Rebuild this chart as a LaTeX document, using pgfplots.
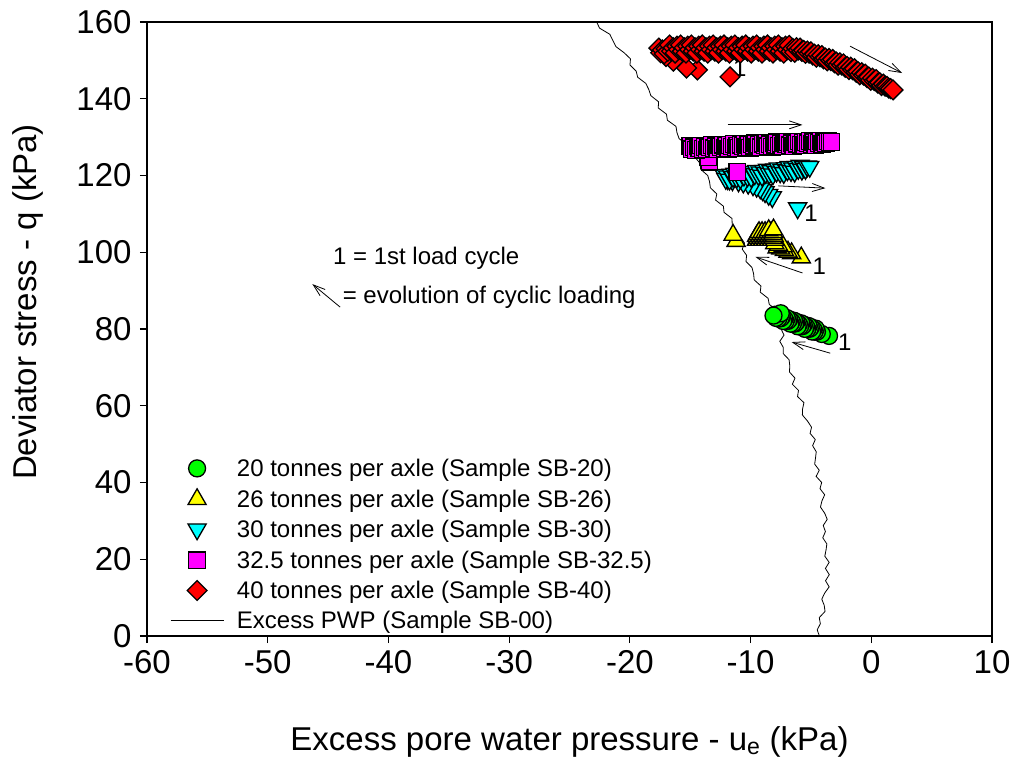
\documentclass[border=0pt]{standalone}
\usepackage{fontspec}
\setmainfont{Liberation Sans}
\usepackage{pgfplots}
\pgfplotsset{compat=1.18}
\usetikzlibrary{arrows.meta}
\definecolor{mgreen}{RGB}{0,255,0}
\definecolor{myellow}{RGB}{255,255,0}
\definecolor{mcyan}{RGB}{0,255,255}
\definecolor{mmagenta}{RGB}{255,0,255}
\definecolor{mred}{RGB}{255,0,0}
\begin{document}
\begin{tikzpicture}
\begin{axis}[
  scale only axis, width=845pt, height=614pt,
  xmin=-60, xmax=10, ymin=0, ymax=160,
  xtick={-60,-50,...,10}, ytick={0,20,...,160},
  tick align=outside, xtick pos=left, ytick pos=left,
  major tick length=7pt,
  axis line style={line width=1.2pt},
  tick style={line width=1.2pt, black},
  /pgf/number format/assume math mode=true,
  ticklabel style={font=\fontsize{33}{38}\selectfont},
  xticklabel style={yshift=-4pt},
  yticklabel style={xshift=-5pt},
  xlabel={Excess pore water pressure - u\textsubscript{e} (kPa)},
  ylabel={Deviator stress - q (kPa)},
  xlabel style={font=\fontsize{33}{38}\selectfont, at={(axis description cs:0.5,-0.173)}, anchor=center},
  ylabel style={font=\fontsize{33}{38}\selectfont, at={(axis description cs:-0.141,0.544)}, anchor=center},
  legend cell align=left,
  legend style={draw=none, fill=none, at={(axis description cs:0.0272,0.2887)}, anchor=north west,
    inner xsep=0pt, inner ysep=0pt, font=\fontsize{24}{29}\selectfont, row sep=11pt, column sep=13pt,
    nodes={inner sep=0pt}},
  legend image code/.code={\draw[mark repeat=2,mark phase=2,#1] plot coordinates {(0pt,0pt) (26.5pt,0pt) (53pt,0pt)};},
]
% 20 tonnes
\addplot[only marks, mark=*, mark size=8.5pt, mark options={fill=mgreen, draw=black, line width=1.3pt}]
coordinates {(-3.5,78.2) (-4.1,78.7) (-4.5,79.3)
(-4.6,80.1) (-4.7,79.31) (-4.8,79.93) (-4.9,79.34) (-5.0,80.46) (-5.1,80.07) (-5.2,80.78) (-5.3,80.0) (-5.4,80.61) (-5.5,80.03)
(-5.6,81.14) (-5.7,80.75) (-5.8,81.47) (-5.9,80.68) (-6.0,81.3) (-6.1,80.71) (-6.2,81.82) (-6.3,81.44) (-6.4,82.15) (-6.5,81.37)
(-6.6,81.98) (-6.7,81.39) (-6.8,82.51) (-6.9,82.12) (-7.0,82.84) (-7.1,82.05) (-7.2,82.66) (-7.3,82.08) (-7.4,83.19) (-7.5,82.81)
(-7.6,83.52) (-7.7,82.73) (-7.8,83.35) (-7.9,82.9) (-8.0,83.7) (-7.5,84.1) (-8.1,83.5)};
\addlegendentry{20 tonnes per axle (Sample SB-20)}
% 26 tonnes
\addplot[only marks, mark=triangle*, mark size=10.5pt, mark options={fill=myellow, draw=black, line width=1.3pt}]
coordinates {(-5.8,98.6) (-6.6,99.7) (-6.9,100.1) (-7.2,100.5) (-7.5,100.9) (-7.8,101.2) (-7.3,101.5) (-7.7,101.9) (-8.0,102.3)
(-9.5,103.2) (-9.25,103.2) (-9.0,103.2) (-8.75,103.2) (-8.5,103.2) (-8.25,103.2) (-8.0,103.2)
(-9.4,103.7) (-9.15,103.7) (-8.9,103.7) (-8.65,103.7) (-8.4,103.7) (-8.15,103.7)
(-9.5,104.2) (-9.25,104.2) (-9.0,104.2) (-8.75,104.2) (-8.5,104.2) (-8.25,104.2) (-8.05,104.2)
(-9.4,104.7) (-9.15,104.7) (-8.9,104.7) (-8.65,104.7) (-8.4,104.7) (-8.15,104.7)
(-9.3,105.2) (-9.05,105.2) (-8.8,105.2) (-8.55,105.2) (-8.3,105.2) (-8.1,105.2)
(-8.5,105.7) (-8.1,105.9) (-11.2,102.9) (-11.45,104.5)};
\addlegendentry{26 tonnes per axle (Sample SB-26)}
% 30 tonnes
\addplot[only marks, mark=triangle*, mark size=10.5pt, mark options={rotate=180, fill=mcyan, draw=black, line width=1.3pt}]
coordinates {(-6.1,111.5) (-8.2,114.4) (-8.5,115.0) (-8.8,115.7) (-9.0,116.2) (-9.2,116.7) (-9.5,117.1) (-9.8,117.5) (-10.2,117.9) (-10.6,118.2) (-11.0,118.5) (-11.5,118.8) (-11.9,119.1)
(-12.2,120.2) (-12.05,119.16) (-11.9,119.81) (-11.75,118.97) (-11.6,120.23) (-11.45,119.69) (-11.3,120.54) (-11.15,119.5) (-11.0,120.16) (-10.85,119.31)
(-10.7,120.57) (-10.55,120.03) (-10.4,120.88) (-10.25,119.84) (-10.1,120.5) (-9.95,119.66) (-9.8,120.91) (-9.65,120.37) (-9.5,121.23) (-9.35,120.18)
(-9.2,120.84) (-9.05,120.0) (-8.9,121.25) (-8.75,120.71) (-8.6,121.57) (-8.45,120.53) (-8.3,121.18) (-8.15,120.34) (-8.0,121.6) (-7.85,121.05)
(-7.7,121.91) (-7.55,120.87) (-7.4,121.52) (-7.25,120.68) (-7.1,121.94) (-6.95,121.4) (-6.8,122.25) (-6.65,121.21) (-6.5,121.87) (-6.35,121.02)
(-6.2,122.28) (-6.05,121.74) (-5.9,122.6) (-5.75,121.55) (-5.6,122.21) (-5.45,121.77) (-5.3,122.42) (-5.1,122.3)};
\addlegendentry{30 tonnes per axle (Sample SB-30)}
% 32.5 tonnes
\addplot[only marks, mark=square*, mark size=8.3pt, mark options={fill=mmagenta, draw=black, line width=1.3pt}]
coordinates {(-11.1,120.9) (-13.4,123.6) (-13.5,124.8)
(-15.0,127.7) (-14.85,126.82) (-14.7,127.34) (-14.55,126.66) (-14.4,127.58) (-14.25,127.2) (-14.1,127.82) (-13.95,126.94) (-13.8,127.46) (-13.65,126.78)
(-13.5,127.7) (-13.35,127.31) (-13.2,127.93) (-13.05,127.05) (-12.9,127.57) (-12.75,126.89) (-12.6,127.81) (-12.45,127.43) (-12.3,128.05) (-12.15,127.17)
(-12.0,127.69) (-11.85,127.01) (-11.7,127.93) (-11.55,127.55) (-11.4,128.17) (-11.25,127.29) (-11.1,127.81) (-10.95,127.13) (-10.8,128.05) (-10.65,127.67)
(-10.5,128.29) (-10.35,127.4) (-10.2,127.92) (-10.05,127.24) (-9.9,128.16) (-9.75,127.78) (-9.6,128.4) (-9.45,127.52) (-9.3,128.04) (-9.15,127.36)
(-9.0,128.28) (-8.85,127.9) (-8.7,128.52) (-8.55,127.64) (-8.4,128.16) (-8.25,127.48) (-8.1,128.4) (-7.95,128.02) (-7.8,128.64) (-7.65,127.76)
(-7.5,128.28) (-7.35,127.59) (-7.2,128.51) (-7.05,128.13) (-6.9,128.75) (-6.75,127.87) (-6.6,128.39) (-6.45,127.71) (-6.3,128.63) (-6.15,128.25)
(-6.0,128.87) (-5.85,127.99) (-5.7,128.51) (-5.55,127.83) (-5.4,128.75) (-5.25,128.37) (-5.1,128.99) (-4.95,128.11) (-4.8,128.62) (-4.65,127.94)
(-4.5,128.86) (-4.35,128.48) (-4.2,129.1) (-4.05,128.22) (-3.9,128.74) (-3.75,128.36) (-3.6,128.88) (-3.45,128.7) (-3.3,128.72)};
\addlegendentry{32.5 tonnes per axle (Sample SB-32.5)}
% 40 tonnes
\addplot[only marks, mark=square*, mark size=7pt, mark options={rotate=45, fill=mred, draw=black, line width=1.3pt}]
coordinates {(-11.7,145.7) (-14.4,147.5) (-15.3,148.0) (-16.4,149.8) (-17.0,151.0)
(-17.6,153.2) (-17.45,152.0) (-17.3,152.7) (-17.15,151.7) (-17.0,153.0) (-16.85,152.4)
(-16.7,154.0) (-16.55,152.4) (-16.4,153.3) (-16.25,151.9) (-16.1,153.7) (-15.95,152.8)
(-15.8,154.0) (-15.65,152.4) (-15.5,153.3) (-15.35,151.9) (-15.2,153.7) (-15.05,152.8)
(-14.9,154.0) (-14.75,152.4) (-14.6,153.3) (-14.45,151.9) (-14.3,153.7) (-14.15,152.8)
(-14.0,154.0) (-13.85,152.4) (-13.7,153.3) (-13.55,151.9) (-13.4,153.7) (-13.25,152.8)
(-13.1,154.0) (-12.95,152.4) (-12.8,153.3) (-12.65,151.9) (-12.5,153.7) (-12.35,152.8)
(-12.2,154.0) (-12.05,152.4) (-11.9,153.3) (-11.75,151.9) (-11.6,153.7) (-11.45,152.8)
(-11.3,154.0) (-11.15,152.4) (-11.0,153.3) (-10.85,151.9) (-10.7,153.7) (-10.55,152.8)
(-10.4,154.0) (-10.25,152.4) (-10.1,153.3) (-9.95,151.9) (-9.8,153.7) (-9.65,152.8)
(-9.5,154.0) (-9.35,152.4) (-9.2,153.3) (-9.05,151.9) (-8.9,153.7) (-8.75,152.8)
(-8.6,154.0) (-8.45,152.4) (-8.3,153.3) (-8.15,151.9) (-8.0,153.7) (-7.85,152.8)
(-7.7,154.0) (-7.55,152.4) (-7.4,153.3) (-7.25,151.9) (-7.1,153.7) (-6.95,152.8)
(-6.8,153.9) (-6.65,152.3) (-6.5,153.1) (-6.35,152.1) (-6.2,153.3) (-6.05,152.7)
(-5.9,153.19) (-5.75,152.33) (-5.6,152.57) (-5.45,151.81) (-5.3,152.44) (-5.15,151.88) (-5.0,152.22) (-4.85,151.36) (-4.7,151.6) (-4.55,150.83)
(-4.4,151.47) (-4.25,150.91) (-4.1,151.25) (-3.95,150.39) (-3.8,150.62) (-3.65,149.86) (-3.5,150.5) (-3.35,149.94) (-3.2,150.24) (-3.05,149.35)
(-2.9,149.56) (-2.75,148.77) (-2.6,149.38) (-2.45,148.78) (-2.3,149.09) (-2.15,148.2) (-2.0,148.41) (-1.85,147.62) (-1.7,148.21) (-1.55,147.57)
(-1.4,147.83) (-1.25,146.9) (-1.1,147.06) (-0.95,146.23) (-0.8,146.79) (-0.65,146.16) (-0.5,146.42) (-0.35,145.48) (-0.2,145.65) (-0.05,144.82)
(0.1,145.37) (0.25,144.73) (0.4,144.99) (0.55,144.04) (0.7,144.2) (0.85,143.45) (1.0,143.81) (1.15,143.26) (1.3,143.22) (1.45,142.77) (1.6,142.63) (1.8,142.3)};
\addlegendentry{40 tonnes per axle (Sample SB-40)}
% Excess PWP
\addplot[black, line width=0.8pt, no marks] coordinates {
(-22.75,160) (-22.51,158.4) (-21.66,156.8) (-21.41,155.2) (-21.16,153.6) (-20.48,152) (-19.95,150.4) (-19.99,148.8) (-19.48,147.2) (-19.35,145.6)
(-18.68,144) (-18.43,142.4) (-18.26,140.8) (-17.62,139.2) (-17.65,137.6) (-16.97,136) (-16.89,134.4) (-16.18,132.8) (-16.10,131.2) (-15.92,129.6)
(-15.26,128) (-14.65,126.4) (-14.62,124.8) (-14.19,123.2) (-14.13,121.6) (-13.55,120) (-13.40,118.4) (-13.33,116.8) (-12.80,115.2) (-12.90,113.6)
(-12.25,112) (-12.20,110.4) (-11.54,108.8) (-11.52,107.2) (-11.40,105.6) (-10.87,104) (-10.50,102.4) (-10.69,100.8) (-10.33,99.2) (-10.38,97.6)
(-9.88,96) (-9.75,94.4) (-9.70,92.8) (-9.14,91.2) (-9.20,89.6) (-8.55,88) (-8.45,86.4) (-7.76,84.8) (-7.87,83.2) (-7.87,81.6)
(-7.47,80) (-7.23,78.4) (-7.58,76.8) (-7.29,75.2) (-7.30,73.6) (-6.81,72) (-6.75,70.4) (-6.78,68.8) (-6.32,67.2) (-6.54,65.6)
(-6.03,64) (-6.11,62.4) (-5.58,60.8) (-5.69,59.2) (-5.71,57.6) (-5.28,56) (-4.95,54.4) (-5.07,52.8) (-4.64,51.2) (-4.86,49.6)
(-4.56,48) (-4.62,46.4) (-4.69,44.8) (-4.31,43.2) (-4.57,41.6) (-4.11,40) (-4.25,38.4) (-3.86,36.8) (-4.09,35.2) (-4.21,33.6)
(-3.86,32) (-3.65,30.4) (-3.98,28.8) (-3.80,27.2) (-4.02,25.6) (-3.68,24) (-3.75,22.4) (-3.85,20.8) (-3.49,19.2) (-3.80,17.6)
(-3.48,16) (-3.79,14.4) (-3.49,12.8) (-3.86,11.2) (-4.10,9.6) (-3.90,8) (-3.83,6.4) (-4.31,4.8) (-4.22,3.2) (-4.48,1.6) (-4.3,0)};
\addlegendentry{Excess PWP (Sample SB-00)}
% arrows
\draw[line width=0.8pt, -{Straight Barb[length=12pt,width=8pt]}] (axis cs:-1.76,153.7) -- (axis cs:2.55,146.7);
\draw[line width=0.8pt, -{Straight Barb[length=12pt,width=8pt]}] (axis cs:-11.9,133.2) -- (axis cs:-5.7,133.2);
\draw[line width=0.8pt, -{Straight Barb[length=12pt,width=8pt]}] (axis cs:-7.7,117.3) -- (axis cs:-3.8,116.7);
\draw[line width=0.8pt, -{Straight Barb[length=12pt,width=8pt]}] (axis cs:-5.7,94.6) -- (axis cs:-9.6,98.8);
\draw[line width=0.8pt, -{Straight Barb[length=12pt,width=8pt]}] (axis cs:-3.4,73.7) -- (axis cs:-6.6,76.6);
\draw[line width=0.8pt, -{Straight Barb[length=12pt,width=8pt]}] (axis cs:-44.0,85.7) -- (axis cs:-46.3,91.7);
% labels
\node[font=\fontsize{24}{29}\selectfont, inner sep=0pt] at (axis cs:-10.9,148.0) {1};
\node[font=\fontsize{24}{29}\selectfont, inner sep=0pt] at (axis cs:-5.0,110.2) {1};
\node[font=\fontsize{24}{29}\selectfont, inner sep=0pt] at (axis cs:-4.3,96.4) {1};
\node[font=\fontsize{24}{29}\selectfont, inner sep=0pt] at (axis cs:-2.2,76.6) {1};
\node[font=\fontsize{24}{29}\selectfont, inner sep=0pt, anchor=west] at (axis cs:-44.6,98.5) {1 = 1st load cycle};
\node[font=\fontsize{24}{29}\selectfont, inner sep=0pt, anchor=west] at (axis cs:-43.8,88.3) {= evolution of cyclic loading};
\end{axis}
\path (current axis.south west) ++(-147pt,-127pt) rectangle ++(1019pt,763pt);
\end{tikzpicture}
\end{document}
